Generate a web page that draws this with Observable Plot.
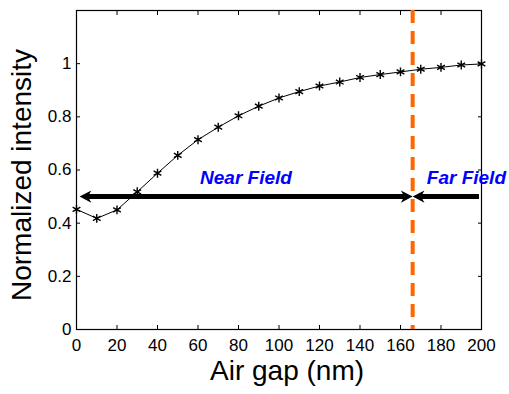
<!DOCTYPE html>
<html>
<head>
<meta charset="utf-8">
<script src="https://cdn.jsdelivr.net/npm/d3@7"></script>
<script src="https://cdn.jsdelivr.net/npm/@observablehq/plot@0.6"></script>
<style>
  html, body { margin: 0; padding: 0; background: #fff; }
  #chart svg { display: block; }
</style>
</head>
<body>
<div id="chart"></div>
<script>
// Data
const airGap = [0, 10, 20, 30, 40, 50, 60, 70, 80, 90, 100, 110, 120, 130, 140, 150, 160, 170, 180, 190, 200];
const intensity = [0.452, 0.418, 0.45, 0.518, 0.588, 0.655, 0.714, 0.761, 0.804, 0.84, 0.871, 0.895, 0.916, 0.931, 0.948, 0.959, 0.969, 0.979, 0.986, 0.995, 0.999];
const xTicks = [0, 20, 40, 60, 80, 100, 120, 140, 160, 180, 200];
const yTicks = [0, 0.2, 0.4, 0.6, 0.8, 1];
const boundaryX = [166];            // near/far field boundary (nm)
const arrowY = 0.5;                 // level of the arrows
const nearArrow = {from: 166, to: 1.5};
const farArrow = {from: 199, to: 166};
const labels = ["Near Field", "Far Field"];
const labelX = [61, 173];
const labelY = [0.57, 0.57];

const data = airGap.map((x, i) => ({x, y: intensity[i]}));

// filled, concave arrowheads with the tip at the origin
function head(dir) {
  return {
    draw(context, size) {
      const s = Math.sqrt(size / Math.PI);
      context.moveTo(0, 0);
      context.lineTo(-dir * 1.9 * s, -s);
      context.lineTo(-dir * 1.35 * s, 0);
      context.lineTo(-dir * 1.9 * s, s);
      context.closePath();
    }
  };
}
const heads = [
  {x: nearArrow.to, dir: -1},
  {x: nearArrow.from, dir: 1},
  {x: farArrow.to, dir: -1}
];

const chart = Plot.plot({
  width: 509,
  height: 394,
  marginLeft: 76,
  marginRight: 28,
  marginTop: 10,
  marginBottom: 65,
  style: {fontFamily: "'Liberation Sans', Arial, sans-serif", background: "#fff", color: "#000", overflow: "visible"},
  x: {domain: [0, 200]},
  y: {domain: [0, 1.2]},
  marks: [
    Plot.frame({stroke: "#000", strokeWidth: 1.2}),
    // labelled axes
    Plot.axisX({ticks: xTicks, tickSize: 0, tickPadding: 9, fontSize: 17, label: null, tickFormat: d => String(d)}),
    Plot.axisY({ticks: yTicks, tickSize: 0, tickPadding: 5, fontSize: 17, label: null, tickFormat: d => String(d)}),
    // inward ticks on all four sides
    Plot.axisX({ticks: xTicks, anchor: "bottom", tickSize: -4, tickFormat: () => "", label: null}),
    Plot.axisX({ticks: xTicks, anchor: "top", tickSize: -4, tickFormat: () => "", label: null}),
    Plot.axisY({ticks: yTicks, anchor: "left", tickSize: -4, tickFormat: () => "", label: null}),
    Plot.axisY({ticks: yTicks, anchor: "right", tickSize: -4, tickFormat: () => "", label: null}),
    // boundary
    Plot.ruleX(boundaryX, {stroke: "#ff6600", strokeWidth: 4, strokeDasharray: "13,8"}),
    // data
    Plot.line(data, {x: "x", y: "y", stroke: "#000", strokeWidth: 1}),
    Plot.dot(data, {x: "x", y: "y", symbol: "asterisk", r: 4.2, stroke: "#000", strokeWidth: 1.4}),
    // arrows
    Plot.ruleY([arrowY], {x1: nearArrow.to + 4, x2: nearArrow.from - 4, stroke: "#000", strokeWidth: 5}),
    Plot.ruleY([arrowY], {x1: farArrow.to + 4, x2: farArrow.from, stroke: "#000", strokeWidth: 5}),
    Plot.dot(heads.filter(d => d.dir < 0), {x: "x", y: () => arrowY, r: 6.2, symbol: head(-1), fill: "#000", stroke: "none"}),
    Plot.dot(heads.filter(d => d.dir > 0), {x: "x", y: () => arrowY, r: 6.2, symbol: head(1), fill: "#000", stroke: "none"}),
    // annotations
    Plot.text(labels, {x: (d, i) => labelX[i], y: (d, i) => labelY[i], text: d => d, textAnchor: "start",
      fill: "#0000ff", fontSize: 19, fontWeight: "bold", fontStyle: "italic"}),
    // axis titles
    Plot.text(["Air gap (nm)"], {frameAnchor: "bottom", textAnchor: "middle", dx: 8, dy: 50, fontSize: 28, fill: "#000"}),
    Plot.text(["Normalized intensity"], {frameAnchor: "left", textAnchor: "middle", rotate: -90, dx: -54, dy: 5, fontSize: 28, fill: "#000"})
  ]
});
document.getElementById("chart").appendChild(chart);
</script>
</body>
</html>
